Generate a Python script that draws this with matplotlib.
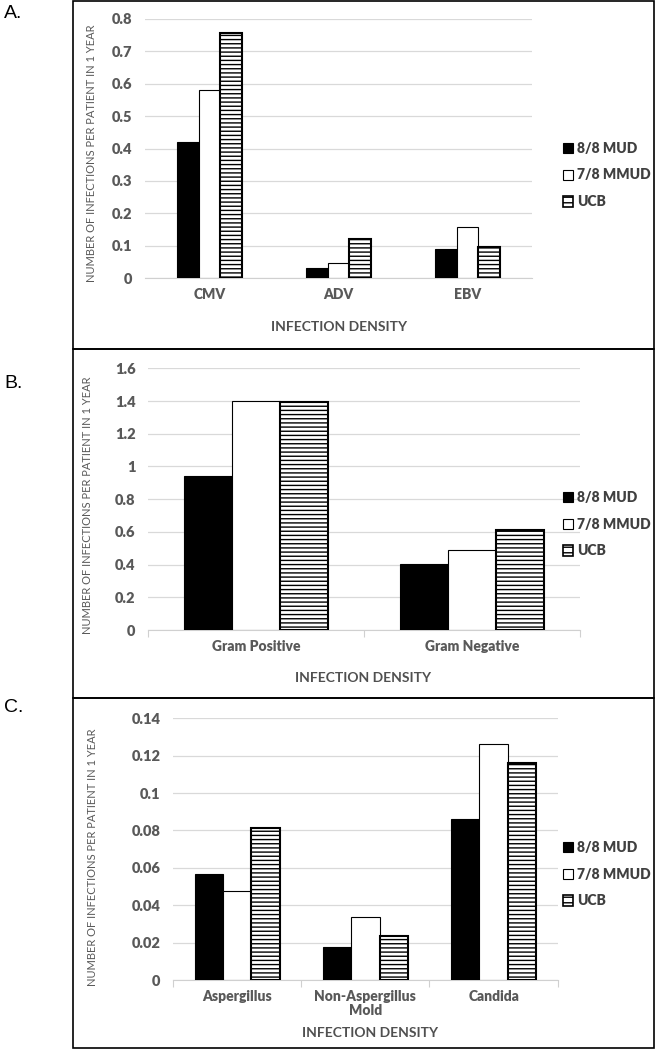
import matplotlib
matplotlib.use('agg')
import matplotlib.pyplot as plt
from matplotlib.patches import Rectangle, Patch
import numpy as np

plt.rcParams['font.family'] = ['Lato', 'DejaVu Sans']
plt.rcParams['hatch.linewidth'] = 1.0

# Donnees
series = ['8/8 MUD', '7/8 MMUD', 'UCB']

cat_a = ['CMV', 'ADV', 'EBV']
mud_a = [0.421, 0.032, 0.090]
mmud_a = [0.581, 0.045, 0.158]
ucb_a = [0.756, 0.121, 0.095]

cat_b = ['Gram Positive', 'Gram Negative']
mud_b = [0.943, 0.403]
mmud_b = [1.402, 0.489]
ucb_b = [1.392, 0.609]

cat_c = ['Aspergillus', 'Non-Aspergillus\nMold', 'Candida']
mud_c = [0.0565, 0.0175, 0.0861]
mmud_c = [0.0476, 0.0337, 0.1264]
ucb_c = [0.0815, 0.0235, 0.1163]

yticks_a = [0, 0.1, 0.2, 0.3, 0.4, 0.5, 0.6, 0.7, 0.8]
yticks_b = [0, 0.2, 0.4, 0.6, 0.8, 1, 1.2, 1.4, 1.6]
yticks_c = [0, 0.02, 0.04, 0.06, 0.08, 0.1, 0.12, 0.14]

GRIS = '#595959'
W, H = 656, 1050

fig = plt.figure(figsize=(W / 100, H / 100), dpi=100)


def fx(px):
    return px / W


def fy(px):
    return 1 - px / H


def panneau(rect, cats, valeurs, yticks, largeur, ylab_xy, xlab_xy, leg_y, ticks_x=True):
    ax = fig.add_axes(rect)
    x = np.arange(len(cats))
    styles = [dict(color='black', edgecolor='black', linewidth=0.8),
              dict(color='white', edgecolor='black', linewidth=0.8),
              dict(color='white', edgecolor='black', linewidth=1.5, hatch='----')]
    for i, (v, st) in enumerate(zip(valeurs, styles)):
        ax.bar(x + (i - 1) * largeur, v, largeur, zorder=3, **st)

    ax.set_xlim(-0.5, len(cats) - 0.5)
    ax.set_ylim(yticks[0], yticks[-1])
    ax.set_yticks(yticks)
    ax.set_yticklabels([('%g' % t) for t in yticks])
    ax.set_xticks(x)
    ax.set_xticklabels(cats, fontweight='heavy', color=GRIS, fontsize=10, linespacing=1.15)
    ax.tick_params(axis='x', length=0, pad=7)
    ax.tick_params(axis='y', length=0, pad=9, labelsize=10.5, labelcolor=GRIS)
    for lab in ax.get_yticklabels():
        lab.set_fontweight('heavy')
    if ticks_x:
        ax.set_xticks(np.arange(len(cats) + 1) - 0.5, minor=True)
        ax.tick_params(axis='x', which='minor', length=5, color='#d0d0d0', width=0.8)
    ax.grid(axis='y', color='#d9d9d9', linewidth=0.9, zorder=0)
    for s in ['top', 'right', 'left']:
        ax.spines[s].set_visible(False)
    ax.spines['bottom'].set_color('#d0d0d0')
    ax.spines['bottom'].set_zorder(1)

    ax.set_ylabel('NUMBER OF INFECTIONS PER PATIENT IN 1 YEAR', fontsize=8.0, color=GRIS)
    ax.yaxis.set_label_coords(*ylab_xy)
    ax.set_xlabel('INFECTION DENSITY', fontsize=10, color='#505050', fontweight='bold')
    ax.xaxis.set_label_coords(*xlab_xy)

    poignees = [Patch(facecolor='black', edgecolor='black', linewidth=0.8),
                Patch(facecolor='white', edgecolor='black', linewidth=0.8),
                Patch(facecolor='white', edgecolor='black', linewidth=1.2, hatch='---')]
    leg = fig.legend(poignees, series, loc='center left', bbox_to_anchor=(fx(550), leg_y),
                     frameon=False, handlelength=0.75, handleheight=0.75, handletextpad=0.3,
                     labelspacing=1.0, prop=dict(size=10, weight='heavy'))
    for t in leg.get_texts():
        t.set_color('#404040')
    return ax


# Panneau A
panneau([fx(145), fy(278), fx(532 - 145), (278 - 19) / H],
        cat_a, [mud_a, mmud_a, ucb_a], yticks_a, 1 / 6,
        (-0.124, 0.48), (0.501, -0.166), fy(175), ticks_x=False)

# Panneau B
panneau([fx(148), fy(630), fx(580 - 148), (630 - 368.3) / H],
        cat_b, [mud_b, mmud_b, ucb_b], yticks_b, 0.222,
        (-0.127, 0.478), (0.498, -0.16), fy(524))

# Panneau C
panneau([fx(173), fy(980), fx(557.7 - 173), (980 - 718.3) / H],
        cat_c, [mud_c, mmud_c, ucb_c], yticks_c, 0.221,
        (-0.195, 0.47), (0.512, -0.18), fy(874))

# Cadres et lettres
for haut, bas, lettre, ly in [(1, 349, 'A.', 14), (349, 698, 'B.', 383), (698, 1048, 'C.', 708)]:
    fig.patches.append(Rectangle((fx(73), fy(bas)), fx(654 - 73), (bas - haut) / H,
                                 transform=fig.transFigure, fill=False,
                                 edgecolor='black', linewidth=1.2))
    fig.text(fx(4), fy(ly), lettre, fontsize=14, family='Liberation Sans',
             va='center', ha='left', color='black')

fig.savefig('out.png', dpi=100)
